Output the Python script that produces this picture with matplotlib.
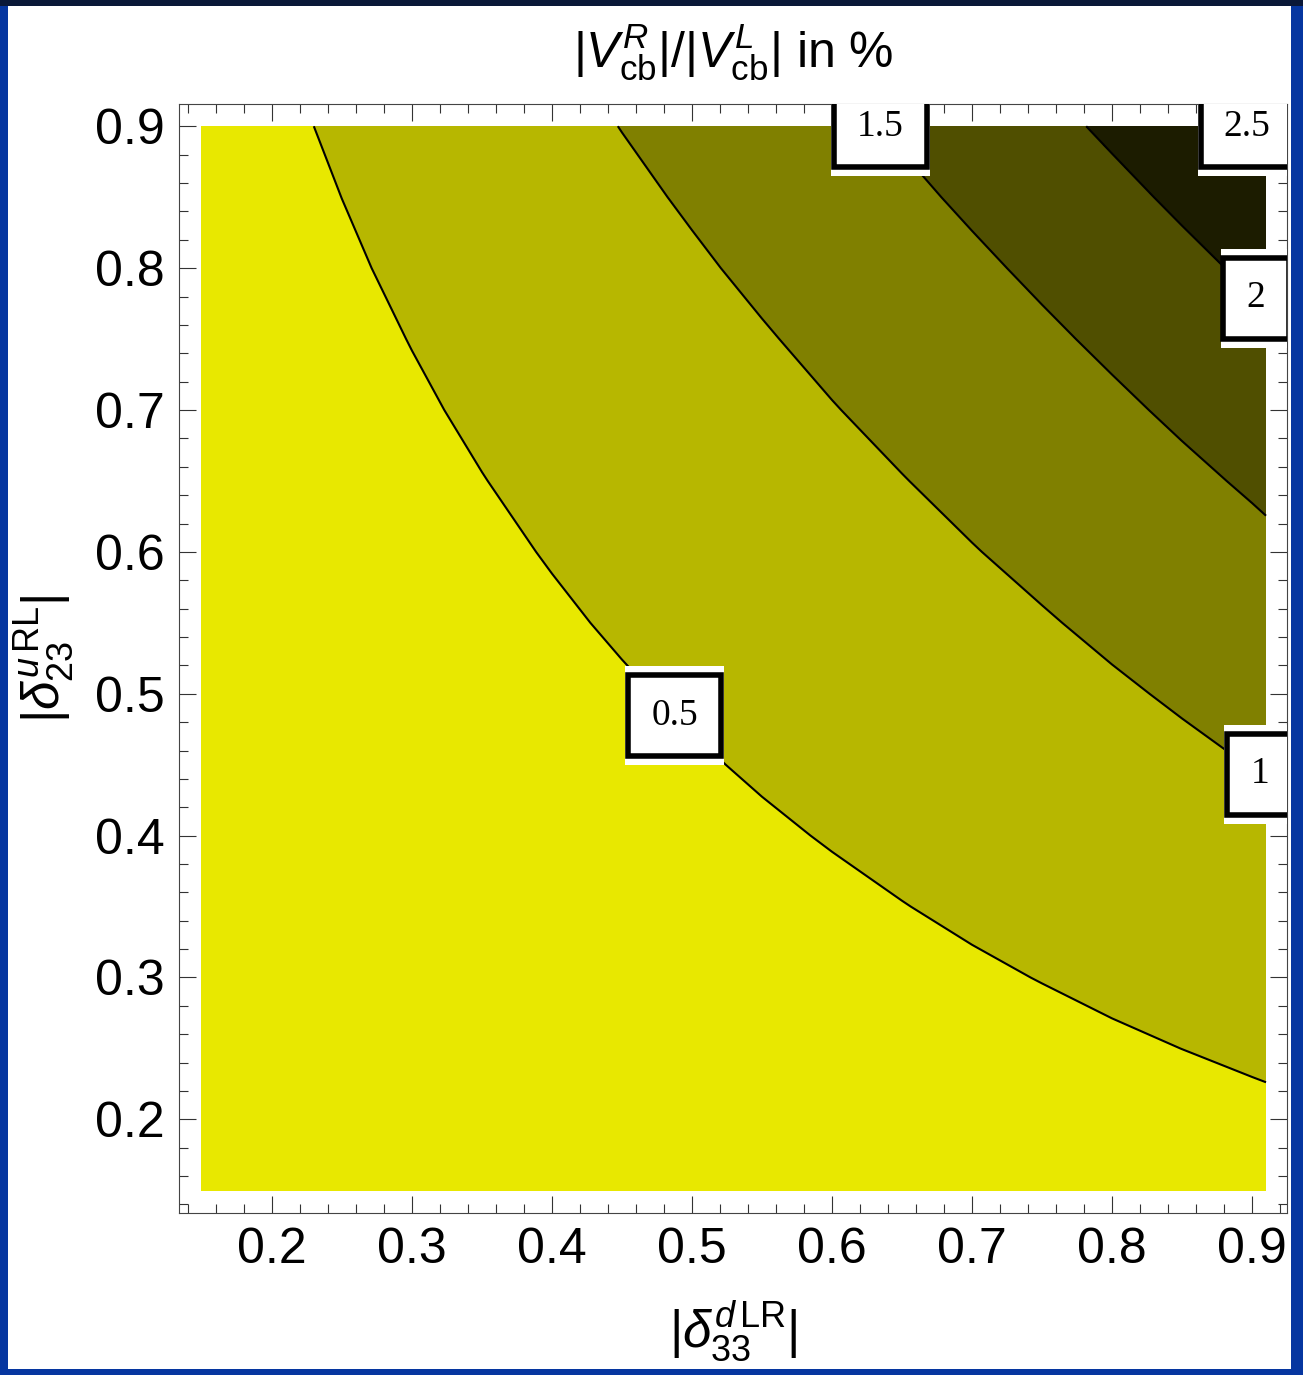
import numpy as np
import matplotlib
matplotlib.use('Agg')
import matplotlib.pyplot as plt
from matplotlib.patches import Rectangle
from matplotlib.transforms import IdentityTransform
from matplotlib.ticker import MultipleLocator, FormatStrFormatter

plt.rcParams['font.family'] = ['Liberation Sans', 'DejaVu Sans']
plt.rcParams['mathtext.fontset'] = 'custom'
plt.rcParams['mathtext.rm'] = 'Liberation Sans'
plt.rcParams['mathtext.it'] = 'Liberation Sans:italic'
plt.rcParams['mathtext.bf'] = 'Liberation Sans:bold'

# |delta_33^dLR| grid nodes (x) and |delta_23^uRL| grid nodes (y)
x_nodes = [0.15, 0.20, 0.25, 0.30, 0.35, 0.40, 0.45, 0.50, 0.55, 0.60,
           0.65, 0.70, 0.75, 0.80, 0.85, 0.90, 0.91]
y_nodes = [0.15, 0.20, 0.25, 0.30, 0.35, 0.40, 0.45, 0.50, 0.55, 0.60,
           0.65, 0.70, 0.75, 0.80, 0.85, 0.90]

# |V_cb^R|/|V_cb^L| in units of 0.001 % (rows: y_nodes, columns: x_nodes)
ratio_permille = [
    [44, 59, 74, 89, 105, 121, 138, 156, 174, 193, 213, 234, 255, 278, 303, 328, 334],
    [59, 79, 99, 119, 140, 162, 184, 207, 231, 256, 282, 310, 339, 370, 402, 436, 443],
    [74, 99, 124, 149, 176, 202, 230, 259, 289, 320, 352, 387, 423, 461, 501, 543, 552],
    [89, 119, 149, 180, 211, 243, 277, 311, 347, 384, 423, 464, 507, 553, 601, 657, 668],
    [105, 140, 176, 211, 248, 285, 324, 364, 405, 449, 494, 542, 593, 646, 708, 768, 781],
    [121, 162, 202, 243, 285, 328, 372, 418, 466, 515, 567, 622, 685, 747, 817, 888, 902],
    [138, 184, 230, 277, 324, 372, 422, 474, 528, 584, 642, 711, 776, 852, 927, 1007, 1023],
    [156, 207, 259, 311, 364, 418, 474, 532, 592, 659, 726, 796, 876, 955, 1039, 1131, 1149],
    [174, 231, 289, 347, 405, 466, 528, 592, 663, 734, 812, 891, 974, 1064, 1159, 1260, 1282],
    [193, 256, 320, 384, 449, 515, 584, 659, 734, 816, 898, 987, 1079, 1178, 1285, 1398, 1423],
    [213, 282, 352, 423, 494, 567, 642, 726, 812, 898, 990, 1086, 1189, 1300, 1419, 1546, 1574],
    [234, 310, 387, 464, 542, 622, 711, 796, 891, 987, 1086, 1193, 1307, 1430, 1563, 1707, 1736],
    [255, 339, 423, 507, 593, 685, 776, 876, 974, 1079, 1189, 1307, 1434, 1570, 1718, 1880, 1913],
    [278, 370, 461, 553, 646, 747, 852, 955, 1064, 1178, 1300, 1430, 1570, 1722, 1888, 2070, 2109],
    [303, 402, 501, 601, 708, 817, 927, 1039, 1159, 1285, 1419, 1563, 1718, 1888, 2075, 2280, 2324],
    [328, 436, 543, 657, 768, 888, 1007, 1131, 1260, 1398, 1546, 1707, 1880, 2070, 2280, 2516, 2565],
]

levels = [0.5, 1.0, 1.5, 2.0, 2.5]
level_labels = ['0.5', '1', '1.5', '2', '2.5']
band_colors = ['#e8e800', '#b7b700', '#808000', '#504f00', '#1c1c00', '#000000']

Z = np.array(ratio_permille, dtype=float) / 1000.0

fig = plt.figure(figsize=(13.03, 13.75), dpi=100)
W, H = 1303, 1375
fig.patches.append(Rectangle((0, 0), 1, 1, transform=fig.transFigure, fc='#0636a0', ec='none', zorder=-10))
fig.patches.append(Rectangle((8 / W, 6 / H), (1291 - 8) / W, (1369 - 6) / H, transform=fig.transFigure, fc='white', ec='none', zorder=-9))
fig.patches.append(Rectangle((0, 1 - 6 / H), 1, 6 / H, transform=fig.transFigure, fc='#0a1838', ec='none', zorder=-8))

ax = fig.add_axes([179 / W, 1 - 1213 / H, (1287 - 179) / W, (1213 - 104) / H])
ax.set_xlim(0.1336, 0.925)
ax.set_ylim(0.134, 0.9157)

ax.contourf(x_nodes, y_nodes, Z, levels=[-1] + levels + [10], colors=band_colors)
cs = ax.contour(x_nodes, y_nodes, Z, levels=levels, colors='black', linewidths=1.5)
fmt = dict(zip(levels, level_labels))
label_pos = [(0.489, 0.486), (0.904, 0.441), (0.634, 0.899), (0.902, 0.778), (0.895, 0.8998)]
texts = ax.clabel(cs, levels=levels, fmt=fmt, inline=False, manual=label_pos, fontsize=27)
for t in texts:
    t.set_rotation(0)
    t.set_fontfamily('Liberation Serif')
    t.set_color('black')
    t.set_bbox(dict(boxstyle='square,pad=0.62', fc='white', ec='black', lw=4.0))
    t.set_clip_box(ax.bbox)
    t.set_clip_on(True)

ax.xaxis.set_major_locator(MultipleLocator(0.1))
ax.xaxis.set_minor_locator(MultipleLocator(0.02))
ax.yaxis.set_major_locator(MultipleLocator(0.1))
ax.yaxis.set_minor_locator(MultipleLocator(0.02))
ax.xaxis.set_major_formatter(FormatStrFormatter('%.1f'))
ax.yaxis.set_major_formatter(FormatStrFormatter('%.1f'))
ax.tick_params(which='both', direction='in', top=True, right=True, color='#333333', width=0.8)
ax.tick_params(which='major', length=12, labelsize=36, pad=10)
ax.tick_params(which='minor', length=6.5)
for s in ax.spines.values():
    s.set_color('#444444')
    s.set_linewidth(0.8)

ax.set_title(r'$|V^{R}_{\rm cb}|/|V^{L}_{\rm cb}|$ in %', fontsize=36, pad=26)
ax.set_ylabel(r'$|\delta^{u\,\rm RL}_{23}|$', fontsize=37, labelpad=14)
ax.set_xlabel(r'$|\delta^{d\,\rm LR}_{33}|$', fontsize=37, labelpad=19)

fig.canvas.draw()
r = fig.canvas.get_renderer()
for t in texts:
    bb = t.get_bbox_patch().get_window_extent(r)
    halo = Rectangle((bb.x0 - 2.8, bb.y0 - 9), bb.width + 5.6, bb.height + 18,
                     transform=IdentityTransform(), fc='white', ec='none',
                     zorder=t.get_zorder() - 0.01)
    ax.add_artist(halo)

fig.savefig('out.png', dpi=100)
